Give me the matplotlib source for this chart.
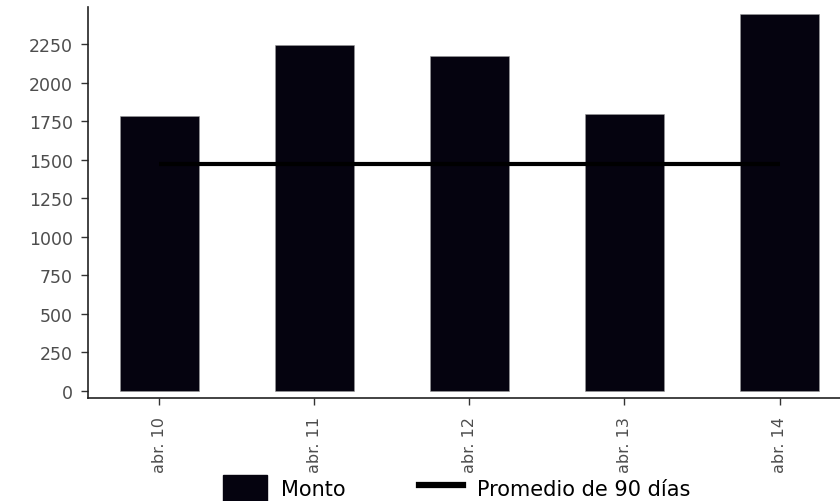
import matplotlib.pyplot as plt
from matplotlib.patches import Patch
from matplotlib.lines import Line2D

# data
fechas = ['abr. 10', 'abr. 11', 'abr. 12', 'abr. 13', 'abr. 14']
monto = [1783, 2243, 2172, 1796, 2444]
promedio_90 = 1472

bar_color = '#05030f'
tick_color = '#4d4d4d'

plt.rcParams['font.family'] = ['DejaVu Sans']

fig = plt.figure(figsize=(8.4, 5.02), dpi=100)
ax = fig.add_axes([88 / 840, 103 / 502, 1 - 88 / 840, 391 / 502])

x = list(range(len(fechas)))
ax.bar(x, monto, width=0.51, color=bar_color, edgecolor='#9a9a9a', linewidth=0.4, zorder=2)
ax.plot([x[0], x[-1]], [promedio_90, promedio_90], color='black', linewidth=3, zorder=3,
        solid_capstyle='butt')

ax.set_xlim(-0.46, 4.39)
ax.set_ylim(-45, 2490)
ax.set_yticks(range(0, 2251, 250))
ax.set_xticks(x)
ax.set_xticklabels(fechas, rotation=90)

for side in ['top', 'right']:
    ax.spines[side].set_visible(False)
for side in ['left', 'bottom']:
    ax.spines[side].set_linewidth(1.2)
    ax.spines[side].set_color('#222222')

ax.tick_params(axis='both', colors='#333333', labelcolor=tick_color,
               length=5, width=1)
ax.tick_params(axis='y', pad=6, labelsize=12.5)
ax.tick_params(axis='x', pad=8, labelsize=11.5)

handles = [Patch(facecolor=bar_color, edgecolor=bar_color),
           Line2D([0], [0], color='black', linewidth=4.5)]
fig.legend(handles, ['Monto', 'Promedio de 90 días'], ncol=2, frameon=False,
           loc='center left', bbox_to_anchor=(223 / 840, 13 / 502), fontsize=15,
           handlelength=2.1, handleheight=1.6, columnspacing=3.5, handletextpad=0.7,
           borderpad=0, borderaxespad=0)

fig.savefig('out.png', dpi=100)
